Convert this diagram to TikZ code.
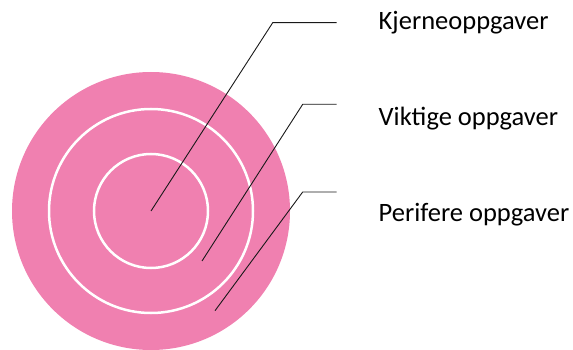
\documentclass[tikz,border=0pt]{standalone}
\usepackage{fontspec}
\setmainfont{Carlito}
\usepackage{xcolor}
\definecolor{ringpink}{RGB}{240,128,176}

\begin{document}
\begin{tikzpicture}[x=1pt,y=-1pt,
    ring/.style={draw=white,line width=2.5pt},
    leader/.style={draw=black!90,line width=0.9pt},
    lbl/.style={anchor=base west,inner sep=0pt,font=\fontsize{26.5}{30}\selectfont}]
    \useasboundingbox (0,0) rectangle (573,350);
    % target
    \fill[ringpink] (151,211) circle (139);
    \draw[ring] (151,211) circle (102);
    \draw[ring] (151,211) circle (57);
    % labels
    \node[lbl] (kjerne) at (378.5,29.3) {Kjerneoppgaver};
    \node[lbl] (viktig) at (378.5,126) {Viktige oppgaver};
    \node[lbl] (perifer) at (378.5,221.7) {Perifere oppgaver};
    % leader lines
    \coordinate (a1) at (151,211);
    \coordinate (b1) at (272.7,22.7);
    \coordinate (e1) at (336.7,22.7);
    \coordinate (a2) at (202,261);
    \coordinate (b2) at (302.7,104.3);
    \coordinate (e2) at (336.7,104.3);
    \coordinate (a3) at (215,310.7);
    \coordinate (b3) at (302.7,192);
    \coordinate (e3) at (336.7,192);
    \draw[leader] (a1) -- (b1) -- (e1);
    \draw[leader] (a2) -- (b2) -- (e2);
    \draw[leader] (a3) -- (b3) -- (e3);
\end{tikzpicture}
\end{document}
